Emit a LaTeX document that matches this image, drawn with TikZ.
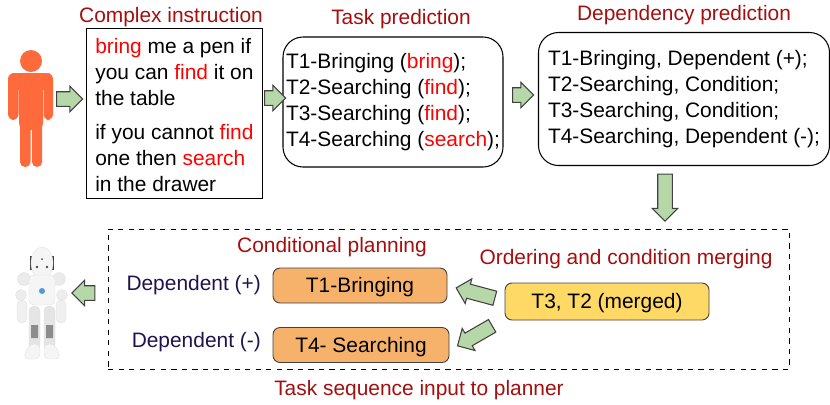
\documentclass[tikz,border=0pt]{standalone}
\usepackage{fontspec}
\setmainfont{Liberation Sans}
\usetikzlibrary{shapes.arrows}
\definecolor{headred}{HTML}{A50E0E}
\definecolor{deepnavy}{HTML}{20124D}
\definecolor{wordred}{HTML}{FF0000}
\definecolor{arrowgreen}{HTML}{B6D7A8}
\definecolor{planorange}{HTML}{F6B26B}
\definecolor{mergeyellow}{HTML}{FFD966}
\definecolor{personorange}{HTML}{FF6A3D}
\newcommand{\hw}[1]{\textcolor{wordred}{#1}}
\begin{document}
\begin{tikzpicture}[
    x=0.2mm, y=-0.2mm,
    every node/.style={font=\fontsize{11.9pt}{14.7pt}\selectfont},
    heading/.style={text=headred},
    sidelabel/.style={text=deepnavy},
    taskbox/.style={draw=black!75, line width=0.5pt, rounded corners=1.4mm, minimum height=7mm, inner sep=0pt, text height=3.3mm, text depth=0.5mm},
    flowarrow/.style={
        single arrow,
        draw=black!75,
        line width=0.6pt,
        fill=arrowgreen,
        inner sep=0pt,
        text height=2.7mm,
        text depth=0pt,
        single arrow head extend=1.1mm,
        single arrow head indent=0pt
    },
    robotpart/.style={fill=#1, draw=black!12, line width=0.2pt}
]
\useasboundingbox (0,0) rectangle (830,404);

% person
\fill[personorange] (31,61) circle (11);
\fill[personorange, rounded corners=1.4mm] (19,73) rectangle (43,130);
\fill[personorange, rounded corners=1.2mm] (8,73) rectangle (18.5,120);
\fill[personorange, rounded corners=1.2mm] (43.5,73) rectangle (53,120);
\fill[personorange, rounded corners=1.6mm] (8,90) -- (8,73) -- (53,73) -- (53,90) -- cycle;
\fill[personorange, rounded corners=1mm] (20,110) rectangle (30.5,167);
\fill[personorange, rounded corners=1mm] (32,110) rectangle (42,167);

% robot
\fill[black!75] (30,256) rectangle (35,270);
\fill[black!75] (49,256) rectangle (54,270);
\draw[robotpart=black!4] (42,263) ellipse (11 and 16);
\fill[black!70] (42,259) circle (1) (37,267) circle (1.3) (47,267) circle (1.3);
\draw[robotpart=black!6, rounded corners=1mm] (17,300) rectangle (27,323);
\draw[robotpart=black!6, rounded corners=1mm] (56,300) rectangle (66,323);
\draw[robotpart=black!8] (24,279) circle (6.5) (59,279) circle (6.5);
\draw[robotpart=black!7] (21,295) circle (5.5) (62,295) circle (5.5);
\draw[robotpart=black!4, rounded corners=1mm] (29,275) rectangle (55,305);
\fill[cyan!60!blue!70] (42,291) circle (3);
\draw[robotpart=black!10, rounded corners=1mm] (29,306) rectangle (40,350);
\draw[robotpart=black!10, rounded corners=1mm] (44,306) rectangle (55,350);
\fill[black!45] (31,325) rectangle (38,338) (46,325) rectangle (53,338);
\draw[robotpart=black!4, rounded corners=1mm] (23,359) -- (29,344) -- (40,344) -- (40,359) -- cycle;
\draw[robotpart=black!4, rounded corners=1mm] (44,359) -- (44,344) -- (55,344) -- (61,359) -- cycle;

% boxes
\node[draw, line width=0.5pt, minimum width=35.2mm, minimum height=34mm, inner sep=0pt] (instruction) at (174,113) {};
\node[anchor=west, align=left, inner sep=0pt] (instructiontext) at (95,115) {%
    \hw{bring} me a pen if\\
    you can \hw{find} it on\\
    the table\\[1.8mm]
    if you cannot \hw{find}\\
    one then \hw{search}\\
    in the drawer};
\node[draw, line width=0.6pt, rounded corners=4mm, minimum width=44mm, minimum height=26mm, align=left, inner sep=0pt] (task) at (393,102) {%
    T1-Bringing (\hw{bring});\\
    T2-Searching (\hw{find});\\
    T3-Searching (\hw{find});\\
    T4-Searching (\hw{search});};
\node[draw, line width=0.6pt, rounded corners=4mm, minimum width=58.2mm, minimum height=26.6mm, align=left, inner sep=0pt] (depend) at (684,99) {%
    T1-Bringing, Dependent (+);\\
    T2-Searching, Condition;\\
    T3-Searching, Condition;\\
    T4-Searching, Dependent (-);};
\node[draw, dashed, line width=0.5pt, minimum width=136.2mm, minimum height=28mm, inner sep=0pt] (plan) at (448.5,299) {};

% titles
\node[heading] (instructiontitle) at (171,17) {Complex instruction};
\node[heading] (tasktitle) at (401,19) {Task prediction};
\node[heading] (dependtitle) at (684,15) {Dependency prediction};
\node[heading] (plantitle) at (332,247) {Conditional planning};
\node[heading] (mergetitle) at (626,259) {Ordering and condition merging};
\node[heading] (inputtitle) at (419,390) {Task sequence input to planner};

% plan contents
\node[taskbox, fill=planorange, minimum width=34.8mm] (bringing) at (360,285.5) {T1-Bringing};
\node[taskbox, fill=planorange, minimum width=35.2mm] (searching) at (361,345) {T4- Searching};
\node[taskbox, fill=mergeyellow, minimum width=40.8mm, minimum height=7.4mm] (merged) at (607,301.5) {T3, T2 (merged)};
\node[sidelabel, anchor=east] (plus) at (267,285) {Dependent (+)};
\node[sidelabel, anchor=east] (minus) at (267,342) {Dependent (-)};

% arrows
\node[flowarrow, minimum height=5.2mm] (a1) at (66,99) {};
\node[flowarrow, minimum height=4.2mm] (a2) at (271.5,98) {};
\node[flowarrow, minimum height=4.2mm] (a3) at (519.5,95) {};
\node[flowarrow, minimum height=9.4mm, rotate=-90] (a4) at (665,194) {};
\node[flowarrow, minimum height=4.6mm, rotate=180] (a5) at (87,293) {};
\node[flowarrow, minimum height=8mm, rotate=165] (a6) at (479,294) {};
\node[flowarrow, minimum height=8mm, rotate=210] (a7) at (478,334) {};

\end{tikzpicture}
\end{document}
